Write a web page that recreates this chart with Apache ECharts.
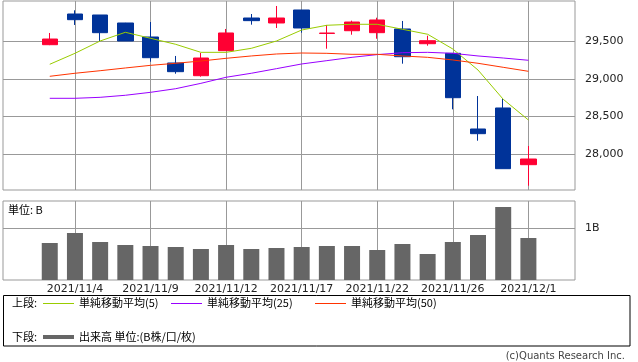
<!DOCTYPE html>
<html><head><meta charset="utf-8">
<script src="https://cdn.jsdelivr.net/npm/echarts@6/dist/echarts.min.js"></script>
<style>html,body{margin:0;padding:0;background:#fff}#c{width:638px;height:362px}</style>
</head><body><div id="c"></div>
<script>
const dates = ['2021/11/2','2021/11/4','2021/11/5','2021/11/8','2021/11/9','2021/11/10','2021/11/11','2021/11/12','2021/11/15','2021/11/16','2021/11/17','2021/11/18','2021/11/19','2021/11/22','2021/11/24','2021/11/25','2021/11/26','2021/11/29','2021/11/30','2021/12/1'];
const labeledDates = ['2021/11/4','2021/11/9','2021/11/12','2021/11/17','2021/11/22','2021/11/26','2021/12/1'];
const openP  = [29451,29857,29844,29738,29553,29209,29041,29372,29804,29738,29910,29600,29636,29610,29659,29464,29337,28336,28614,27864];
const closeP = [29526,29782,29610,29500,29279,29094,29275,29606,29769,29804,29672,29605,29751,29778,29292,29504,28750,28274,27811,27939];
const lowP   = [29445,29712,29500,29500,29226,29067,29028,29372,29716,29672,29610,29398,29583,29530,29200,29438,28596,28181,27811,27586];
const highP  = [29606,29906,29844,29740,29751,29302,29341,29659,29857,29963,29910,29712,29769,29808,29765,29570,29337,28772,28733,28111];
const volume = [0.716,0.909,0.735,0.677,0.658,0.638,0.600,0.677,0.600,0.619,0.638,0.658,0.658,0.580,0.696,0.503,0.735,0.870,1.412,0.812];
const ma5  = [29192,29337,29500,29615,29536,29456,29350,29350,29403,29500,29645,29708,29721,29721,29655,29589,29394,29116,28729,28455];
const ma25 = [28742,28742,28755,28782,28821,28869,28940,29020,29073,29134,29196,29240,29284,29320,29345,29350,29337,29302,29275,29245];
const ma50 = [29033,29073,29107,29143,29178,29205,29235,29271,29302,29328,29341,29337,29324,29324,29302,29284,29249,29205,29152,29099];
const priceTicks = [28000,28500,29000,29500];
const volumeTicks = [1];

const FONT = '"DejaVu Sans", "Noto Sans CJK JP", sans-serif';
const JFONT = '"Noto Sans CJK JP", "DejaVu Sans", sans-serif';
const pos = i => i - 1;
const xTicks = labeledDates.map(d => pos(dates.indexOf(d)));
const xMin = -2.856, xMax = 19.85;
const grayLine = '#999999';

const chart = echarts.init(document.getElementById('c'), null, {renderer: 'canvas'});

const xBase = {
  type: 'value', min: xMin, max: xMax,
  axisLine: {show: false},
  axisTick: {show: false, customValues: xTicks},
  splitLine: {show: true, lineStyle: {color: grayLine, width: 1}}
};

chart.setOption({
  animation: false,
  backgroundColor: '#ffffff',
  grid: [
    {left: 3, right: 63, top: 1, height: 189, show: true, borderColor: grayLine, borderWidth: 1, backgroundColor: 'transparent'},
    {left: 3, right: 63, top: 201, height: 79, show: true, borderColor: grayLine, borderWidth: 1, backgroundColor: 'transparent'}
  ],
  xAxis: [
    Object.assign({}, xBase, {gridIndex: 0, axisLabel: {show: false, customValues: xTicks}}),
    Object.assign({}, xBase, {gridIndex: 1, axisLabel: {show: true, customValues: xTicks, margin: 4,
      color: '#222', fontSize: 11, fontFamily: FONT,
      formatter: v => dates[Math.round(v) + 1] || ''}})
  ],
  yAxis: [
    {type: 'value', gridIndex: 0, position: 'right', min: 27529, max: 30029, scale: true,
     axisLine: {show: false},
     axisTick: {show: false, customValues: priceTicks},
     axisLabel: {customValues: priceTicks, margin: 10, color: '#222', fontSize: 11, fontFamily: FONT,
       formatter: v => v.toLocaleString('en-US')},
     splitLine: {show: true, lineStyle: {color: grayLine, width: 1}}},
    {type: 'value', gridIndex: 1, position: 'right', min: 0, max: 1.528,
     axisLine: {show: false},
     axisTick: {show: true, length: 5, customValues: volumeTicks, lineStyle: {color: grayLine}},
     axisLabel: {customValues: volumeTicks, margin: 10, color: '#222', fontSize: 11, fontFamily: FONT,
       formatter: v => v + 'B'},
     splitLine: {show: true, lineStyle: {color: grayLine, width: 1}}}
  ],
  series: [
    {type: 'candlestick', xAxisIndex: 0, yAxisIndex: 0, barWidth: 16,
     encode: {x: 0, y: [1, 2, 3, 4]},
     data: dates.map((d, i) => [pos(i), openP[i], closeP[i], lowP[i], highP[i]]),
     itemStyle: {color: '#ff0033', color0: '#003399', borderColor: '#ff0033', borderColor0: '#003399', borderWidth: 1}},
    {type: 'line', name: '単純移動平均(5)', xAxisIndex: 0, yAxisIndex: 0, symbol: 'none',
     data: dates.map((d, i) => [pos(i), ma5[i]]), lineStyle: {color: '#99cc00', width: 1}, z: 3},
    {type: 'line', name: '単純移動平均(25)', xAxisIndex: 0, yAxisIndex: 0, symbol: 'none',
     data: dates.map((d, i) => [pos(i), ma25[i]]), lineStyle: {color: '#9900ff', width: 1}, z: 3},
    {type: 'line', name: '単純移動平均(50)', xAxisIndex: 0, yAxisIndex: 0, symbol: 'none',
     data: dates.map((d, i) => [pos(i), ma50[i]]), lineStyle: {color: '#ff3300', width: 1}, z: 3},
    {type: 'bar', name: '出来高', xAxisIndex: 1, yAxisIndex: 1, barWidth: 16,
     data: dates.map((d, i) => [pos(i), volume[i]]), itemStyle: {color: '#666666'}}
  ],
  graphic: [
    {type: 'text', left: 8, top: 204, style: {text: '単位: B', font: '11px ' + JFONT, fill: '#000'}},
    {type: 'rect', shape: {x: 3.5, y: 295.5, width: 626.5, height: 50.5}, style: {fill: 'none', stroke: '#000', lineWidth: 1}},
    {type: 'text', x: 12, y: 303, style: {text: '上段:', font: '11px ' + JFONT, fill: '#000', verticalAlign: 'middle'}},
    {type: 'line', shape: {x1: 43, y1: 303.5, x2: 74, y2: 303.5}, style: {stroke: '#99cc00', lineWidth: 1}},
    {type: 'text', x: 79, y: 303, style: {text: '単純移動平均(5)', font: '11px ' + JFONT, fill: '#000', verticalAlign: 'middle'}},
    {type: 'line', shape: {x1: 171, y1: 303.5, x2: 202, y2: 303.5}, style: {stroke: '#9900ff', lineWidth: 1}},
    {type: 'text', x: 207, y: 303, style: {text: '単純移動平均(25)', font: '11px ' + JFONT, fill: '#000', verticalAlign: 'middle'}},
    {type: 'line', shape: {x1: 315, y1: 303.5, x2: 346, y2: 303.5}, style: {stroke: '#ff3300', lineWidth: 1}},
    {type: 'text', x: 351, y: 303, style: {text: '単純移動平均(50)', font: '11px ' + JFONT, fill: '#000', verticalAlign: 'middle'}},
    {type: 'text', x: 12, y: 337, style: {text: '下段:', font: '11px ' + JFONT, fill: '#000', verticalAlign: 'middle'}},
    {type: 'line', shape: {x1: 43, y1: 337, x2: 74, y2: 337}, style: {stroke: '#666666', lineWidth: 4}},
    {type: 'text', x: 79, y: 337, style: {text: '出来高 単位:(B株/口/枚)', font: '11px ' + JFONT, fill: '#000', verticalAlign: 'middle'}},
    {type: 'text', x: 625, y: 356, style: {text: '(c)Quants Research Inc.', font: '10px ' + FONT, fill: '#444', align: 'right', verticalAlign: 'middle'}}
  ]
});
</script></body></html>
